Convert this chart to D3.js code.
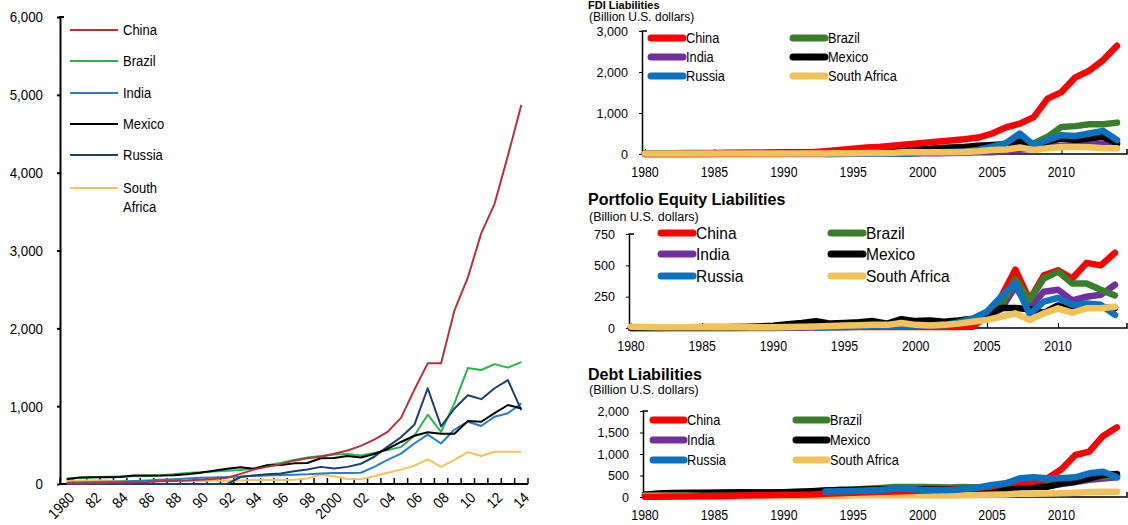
<!DOCTYPE html>
<html><head><meta charset="utf-8">
<script src="https://cdn.jsdelivr.net/npm/d3@7"></script>
<style>
body{margin:0;background:#fff}
svg{display:block}
text{font-family:"Liberation Sans",Arial,sans-serif;fill:#000}
</style>
</head><body>
<svg id="c" width="1128" height="525"></svg>
<script>
// ---------- DATA ----------
const years = [1980,1981,1982,1983,1984,1985,1986,1987,1988,1989,1990,1991,1992,1993,1994,1995,1996,1997,1998,1999,2000,2001,2002,2003,2004,2005,2006,2007,2008,2009,2010,2011,2012,2013,2014];
const leftTickLabels = ["1980","82","84","86","88","90","92","94","96","98","2000","02","04","06","08","10","12","14"];
const leftYTicks = [0,1000,2000,3000,4000,5000,6000];
const countries = ["China","Brazil","India","Mexico","Russia","South Africa"];

// Total external liabilities (billion US$)
const totChina   = [5,8,10,12,15,20,25,35,40,45,55,65,80,130,185,220,255,300,330,350,388,430,490,570,670,850,1210,1550,1550,2230,2650,3220,3600,4220,4870];
const totBrazil  = [70,80,88,92,95,98,102,108,125,140,150,160,170,180,200,240,270,310,340,360,380,385,365,400,435,475,620,890,670,1040,1490,1465,1540,1495,1565];
const totIndia   = [20,22,25,28,32,38,45,55,62,70,80,85,90,95,105,110,115,120,125,135,140,140,145,220,310,390,520,635,520,700,800,745,865,910,1035];
const totMexico  = [60,85,88,88,90,110,110,110,112,125,145,170,195,215,195,240,245,265,270,330,335,360,340,385,450,540,620,665,645,645,810,800,910,1015,970];
const totRussia  = [0,0,0,0,0,0,0,0,0,0,0,0,0,90,110,125,135,165,185,220,200,220,260,350,480,600,760,1230,740,970,1140,1090,1230,1335,950];
const totSAfrica = [45,45,48,45,40,35,38,40,40,38,40,42,42,45,50,55,50,55,70,120,100,65,60,100,145,185,235,315,220,310,410,360,415,415,415];

// FDI liabilities
const fdiChina   = [0,0,1,2,3,4,6,8,10,14,20,28,40,70,100,130,160,180,210,240,270,300,330,360,400,500,650,740,900,1350,1510,1870,2030,2290,2640];
const fdiBrazil  = [17,19,21,23,24,25,27,29,30,33,37,40,40,45,50,60,70,90,110,120,120,120,100,130,160,180,220,310,260,420,660,680,725,725,765];
const fdiIndia   = [1,1,1,1,1,1,1,2,2,2,2,2,2,3,4,5,7,10,12,15,17,20,25,30,40,45,70,105,125,170,200,210,225,250,230];
const fdiMexico  = [10,12,14,16,18,20,22,24,26,28,30,32,36,40,50,55,60,70,80,95,110,140,160,170,200,220,240,300,180,300,380,340,380,420,260];
const fdiRussia  = [null,null,null,null,null,null,null,null,null,null,null,null,null,1,2,5,6,10,12,15,30,40,50,60,100,180,265,500,215,340,460,440,500,565,340];
const fdiSAfrica = [15,15,15,14,12,10,10,10,10,10,10,10,12,15,17,20,22,25,30,50,45,40,40,50,65,100,110,160,100,140,170,170,165,140,140];

// Portfolio equity liabilities
const eqChina   = [0,0,0,2,5,8,8,8,8,8,8,8,8,8,8,8,8,8,8,8,8,8,8,8,10,95,250,465,225,420,460,395,520,500,600];
const eqBrazil  = [0,0,0,0,0,0,0,0,1,2,3,5,8,15,25,30,40,50,25,35,35,30,20,35,60,100,180,390,220,395,450,355,355,305,260];
const eqIndia   = [0,0,0,0,0,0,0,0,0,0,0,1,2,5,10,15,15,15,15,20,25,25,20,40,60,90,150,330,160,290,305,220,250,265,345];
const eqMexico  = [2,3,3,3,3,4,5,5,8,12,18,30,40,55,35,40,45,55,35,70,55,60,50,60,75,95,160,160,150,120,180,140,165,165,160];
const eqRussia  = [null,null,null,null,null,null,null,null,null,null,null,null,null,1,3,5,10,20,10,15,15,20,25,45,75,130,250,360,110,210,240,185,195,185,105];
const eqSAfrica = [10,8,6,5,5,5,5,5,5,5,5,8,10,12,15,20,22,25,25,40,25,20,25,35,50,65,90,117,64,117,157,122,157,157,170];

// Debt liabilities
const dbChina   = [5,8,10,12,15,20,25,35,40,45,50,55,60,75,90,100,110,120,130,140,150,160,170,190,215,240,318,341,357,434,643,976,1054,1420,1620];
const dbBrazil  = [60,70,80,85,90,100,105,110,110,110,110,115,125,150,165,170,190,210,230,230,230,225,220,230,220,200,210,240,250,290,380,420,450,470,490];
const dbIndia   = [20,22,25,28,32,38,45,55,62,70,80,85,90,95,100,100,100,100,100,105,110,105,110,120,130,140,170,220,230,250,300,350,400,430,460];
const dbMexico  = [50,80,95,98,100,100,105,110,105,105,110,120,135,150,160,170,175,175,178,180,180,178,175,180,185,195,202,240,240,240,318,357,434,512,535];
const dbRussia  = [null,null,null,null,null,null,null,null,null,null,null,null,null,130,135,140,150,165,190,195,165,160,160,185,220,279,318,434,457,434,434,457,550,589,457];
const dbSAfrica = [30,30,28,28,25,25,25,25,25,25,25,25,25,28,30,35,38,40,40,40,38,35,35,40,45,50,60,75,75,80,90,100,115,120,120];

const rightXTicks = [1980,1985,1990,1995,2000,2005,2010];
const fdiYTicks = [0,1000,2000,3000];
const eqYTicks = [0,250,500,750];
const dbYTicks = [0,500,1000,1500,2000];

// ---------- STYLE ----------
const leftColors = {"China":"#b3323d","Brazil":"#2fb14f","India":"#2b7bc6","Mexico":"#000000","Russia":"#1d3e6c","South Africa":"#f1c35d"};
const rightColors = {"China":"#ff0000","Brazil":"#3a7d2a","India":"#7030a0","Mexico":"#000000","Russia":"#0a72c0","South Africa":"#f2c25a"};

const svg = d3.select("#c");
const fmt = d3.format(",");

// condensed text helper
function ntext(sel, x, y, str, size, sx, anchor){
  return sel.append("text").attr("transform",`translate(${x},${y}) scale(${sx},1)`)
    .attr("text-anchor",anchor||"start").attr("dy","0.35em").style("font-size",size+"px").text(str);
}

// ---------- LEFT CHART ----------
(function(){
  const g = svg.append("g");
  const x = d3.scaleBand().domain(years).range([60, 528]);
  const xc = d => x(d) + x.bandwidth()/2;
  const y = d3.scaleLinear().domain([0, 6000]).range([484, 17]);
  const series = {"China":totChina,"Brazil":totBrazil,"India":totIndia,"Mexico":totMexico,"Russia":totRussia,"South Africa":totSAfrica};
  const order = ["South Africa","India","Brazil","Russia","Mexico","China"];

  // y axis
  const ya = d3.axisLeft(y).tickValues(leftYTicks).tickSize(3).tickSizeOuter(0).tickFormat("");
  const yg = g.append("g").attr("transform","translate(60,0)").call(ya);
  yg.select(".domain").attr("stroke","#000").attr("stroke-width",2);
  yg.selectAll(".tick line").attr("stroke-width",2);
  leftYTicks.forEach(v => ntext(g, 43, y(v), fmt(v), 15.5, 0.86, "end"));
  g.append("line").attr("x1",59).attr("x2",64).attr("y1",y(6000)).attr("y2",y(6000)).attr("stroke","#000").attr("stroke-width",2);

  // x axis: ticks at band boundaries, pointing up
  const bounds = years.map(d => x(d)).concat([528]);
  g.append("line").attr("x1",60).attr("x2",528).attr("y1",y(0)).attr("y2",y(0)).attr("stroke","#000").attr("stroke-width",2);
  g.selectAll(".xt").data(bounds).join("line")
    .attr("x1",d=>d).attr("x2",d=>d).attr("y1",y(0)).attr("y2",y(0)-6)
    .attr("stroke","#000").attr("stroke-width",1.5);
  const labYears = years.filter((d,i)=> i%2===0);
  g.selectAll(".xl").data(labYears).join("text")
    .attr("transform",(d)=>`translate(${xc(d)+5},${y(0)+11}) rotate(-45) scale(0.9,1)`)
    .attr("text-anchor","end").attr("dy","0.35em").style("font-size","15px")
    .text((d,i)=>leftTickLabels[i]);

  // lines
  const line = d3.line().x((d,i)=>xc(years[i])).y(d=>y(d));
  order.forEach(c=>{
    g.append("path").datum(series[c]).attr("d",line)
      .attr("fill","none").attr("stroke",leftColors[c]).attr("stroke-width",2).attr("stroke-linejoin","round");
  });

  // legend
  const ly = [30,61,93,124,155,188];
  countries.forEach((c,i)=>{
    g.append("line").attr("x1",70).attr("x2",118).attr("y1",ly[i]).attr("y2",ly[i])
      .attr("stroke",leftColors[c]).attr("stroke-width",2);
    if(c==="South Africa"){
      ntext(g,123,ly[i],"South",15.5,0.84);
      ntext(g,123,ly[i]+19,"Africa",15.5,0.84);
    } else ntext(g,123,ly[i],c,15.5,0.84);
  });
})();

// ---------- RIGHT PANELS ----------
function panel(cfg){
  const g = svg.append("g");
  const x = d3.scaleLinear().domain([1980,2014]).range([cfg.x0, cfg.x1]);
  const y = d3.scaleLinear().domain([0, cfg.max]).range([cfg.y0, cfg.yTop]);
  // title
  g.append("text").attr("x",588).attr("y",cfg.titleY).style("font-size",cfg.titleFs+"px").style("font-weight","bold").text(cfg.title);
  g.append("text").attr("x",589).attr("y",cfg.subY).style("font-size",cfg.subFs+"px").text("(Billion U.S. dollars)");
  // y axis
  const ya = d3.axisLeft(y).tickValues(cfg.yTicks).tickSize(3).tickSizeOuter(0).tickFormat("");
  const yg = g.append("g").attr("transform",`translate(${cfg.axX},0)`).call(ya);
  yg.select(".domain").attr("stroke","#000").attr("stroke-width",1.5);
  cfg.yTicks.forEach(v => ntext(g, cfg.axX-14, y(v), fmt(v), 13.5, 0.93, "end"));
  g.append("line").attr("x1",cfg.axX-0.7).attr("x2",cfg.axX+5).attr("y1",cfg.yTop).attr("y2",cfg.yTop).attr("stroke","#000").attr("stroke-width",1.5);
  // x axis
  const xa = d3.axisBottom(x).tickValues(rightXTicks).tickSize(-5).tickSizeOuter(0).tickFormat("");
  const xg = g.append("g").attr("transform",`translate(0,${cfg.y0})`).call(xa);
  xg.select(".domain").attr("d",`M${cfg.axX},0H1127V-5`).attr("stroke","#000").attr("stroke-width",1.5);
  rightXTicks.forEach(v => ntext(g, x(v), cfg.y0+18, String(v), 14, 0.88, "middle"));
  // lines
  const line = d3.line().defined(d=>d!==null).x((d,i)=>x(years[i])).y(d=>y(d));
  cfg.order.forEach(c=>{
    g.append("path").datum(cfg.series[c]).attr("d",line)
      .attr("fill","none").attr("stroke",rightColors[c]).attr("stroke-width",cfg.lw)
      .attr("stroke-linejoin","round").attr("stroke-linecap","round");
  });
  // legend
  countries.forEach((c,i)=>{
    const col = i%2, row = Math.floor(i/2);
    const lx = col===0 ? cfg.leg.c1 : cfg.leg.c2;
    const ly = cfg.leg.rows[row];
    g.append("line").attr("x1",lx).attr("x2",lx+cfg.leg.len).attr("y1",ly).attr("y2",ly)
      .attr("stroke",rightColors[c]).attr("stroke-width",7).attr("stroke-linecap","round");
    ntext(g, lx+cfg.leg.len+3, ly, c, cfg.leg.fs, cfg.leg.sx);
  });
}

panel({title:"FDI Liabilities", titleFs:11, titleY:8.5, subFs:12, subY:21, axX:642, x0:645, x1:1117, y0:154, yTop:31, max:3000, yTicks:fdiYTicks, lw:6.5,
  series:{"China":fdiChina,"Brazil":fdiBrazil,"India":fdiIndia,"Mexico":fdiMexico,"Russia":fdiRussia,"South Africa":fdiSAfrica},
  order:["India","Brazil","Mexico","Russia","China","South Africa"],
  leg:{c1:651,c2:793,len:32,rows:[38,57,76],fs:14.5,sx:0.88}});

panel({title:"Portfolio Equity Liabilities", titleFs:16, titleY:205, subFs:12.5, subY:221, axX:629, x0:631, x1:1115, y0:328, yTop:234, max:750, yTicks:eqYTicks, lw:6.5,
  series:{"China":eqChina,"Brazil":eqBrazil,"India":eqIndia,"Mexico":eqMexico,"Russia":eqRussia,"South Africa":eqSAfrica},
  order:["China","India","Brazil","Mexico","Russia","South Africa"],
  leg:{c1:661,c2:831,len:32,rows:[233,254,276],fs:16,sx:0.97}});

panel({title:"Debt Liabilities", titleFs:16, titleY:380, subFs:12.5, subY:394, axX:643, x0:645, x1:1117, y0:497, yTop:411, max:2000, yTicks:dbYTicks, lw:6.5,
  series:{"China":dbChina,"Brazil":dbBrazil,"India":dbIndia,"Mexico":dbMexico,"Russia":dbRussia,"South Africa":dbSAfrica},
  order:["India","Brazil","Mexico","South Africa","China","Russia"],
  leg:{c1:653,c2:796,len:31,rows:[420,440,460],fs:14.5,sx:0.88}});
</script>
</body></html>
